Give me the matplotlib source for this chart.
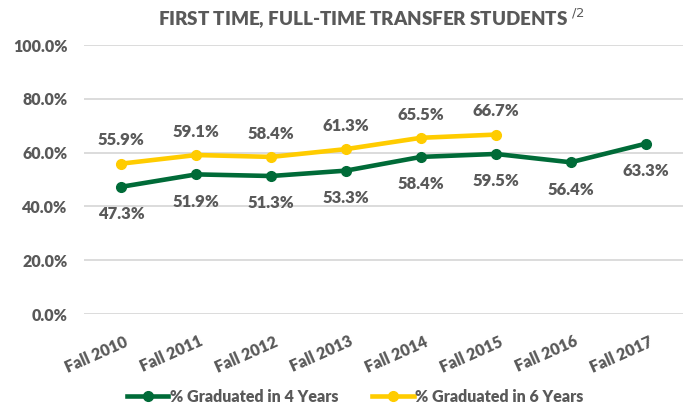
import matplotlib
matplotlib.use("Agg")
import matplotlib.pyplot as plt
import matplotlib.transforms as mtransforms
from matplotlib.ticker import FuncFormatter

categories = ["Fall 2010", "Fall 2011", "Fall 2012", "Fall 2013", "Fall 2014", "Fall 2015", "Fall 2016", "Fall 2017"]
grad4 = [47.3, 51.9, 51.3, 53.3, 58.4, 59.5, 56.4, 63.3]
grad6 = [55.9, 59.1, 58.4, 61.3, 65.5, 66.7]

plt.rcParams['font.family'] = ['Lato', 'DejaVu Sans']
gray = '#595959'
green = '#006B38'
yellow = '#FFCC00'
W = 'heavy'

fig = plt.figure(figsize=(6.83, 4.11), dpi=100)
ax = fig.add_axes([0.123, 0.236, 0.877, 0.6545])

x4 = list(range(len(grad4)))
x6 = list(range(len(grad6)))
ax.plot(x4, grad4, color=green, lw=3.3, marker='o', ms=7, label='% Graduated in 4 Years', zorder=3)
ax.plot(x6, grad6, color=yellow, lw=3.3, marker='o', ms=7, label='% Graduated in 6 Years', zorder=3)

for xi, v in zip(x4, grad4):
    ax.annotate(f"{v:.1f}%", (xi, v), xytext=(0, -14), textcoords='offset points',
                ha='center', va='top', fontsize=12, fontweight=W, color=gray)
for xi, v in zip(x6, grad6):
    ax.annotate(f"{v:.1f}%", (xi, v), xytext=(0, 11), textcoords='offset points',
                ha='center', va='bottom', fontsize=12, fontweight=W, color=gray)

ax.set_xlim(-0.5, len(categories) - 0.5)
ax.set_ylim(0, 100)
ax.set_yticks([0, 20, 40, 60, 80, 100])
ax.yaxis.set_major_formatter(FuncFormatter(lambda v, p: f"{v:.1f}%"))
ax.set_xticks(range(len(categories)))
ax.set_xticklabels(categories, rotation=24, ha='right', va='top', rotation_mode='anchor')
ax.grid(axis='y', color='#D9D9D9', lw=1.3)
ax.set_axisbelow(True)
for s in ax.spines.values():
    s.set_visible(False)
ax.tick_params(length=0, colors=gray, labelsize=11.5)
for lab in ax.get_xticklabels() + ax.get_yticklabels():
    lab.set_fontweight(W)
ax.tick_params(axis='y', pad=12)
ax.tick_params(axis='x', pad=14)
off = mtransforms.ScaledTranslation(2/72, 0, fig.dpi_scale_trans)
for lab in ax.get_xticklabels():
    lab.set_transform(lab.get_transform() + off)

fig.text(0.543, 0.953, "FIRST TIME, FULL-TIME TRANSFER STUDENTS $^{/2}$", ha='center', va='center',
         fontsize=13.5, fontweight=W, color=gray)

leg = fig.legend(loc='center', bbox_to_anchor=(0.52, 0.035), ncol=2, frameon=False,
                 fontsize=11.5, handlelength=2.6, handletextpad=0.1, columnspacing=2.1)
for t in leg.get_texts():
    t.set_color(gray)
    t.set_fontweight(W)

fig.savefig("out.png", dpi=100)
